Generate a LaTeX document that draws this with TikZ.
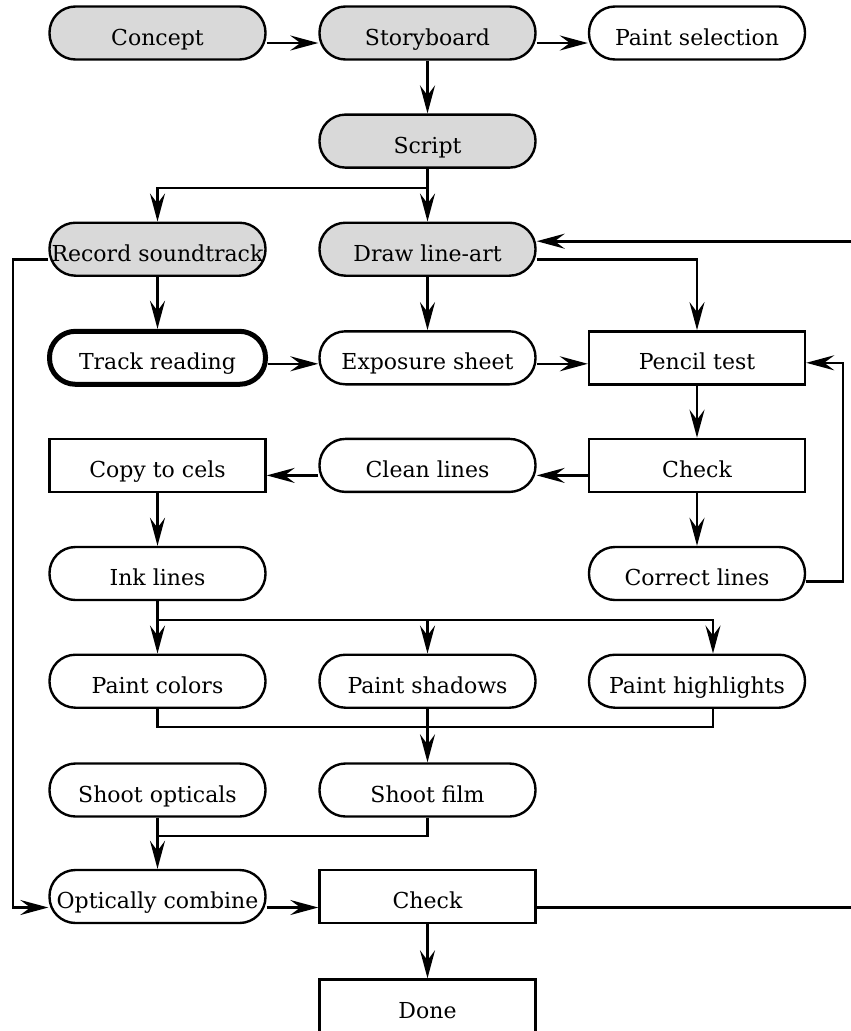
\documentclass[tikz,border=0pt]{standalone}
\usepackage{fontspec}
\setmainfont{DejaVu Serif}
\usetikzlibrary{arrows.meta,calc}
\begin{document}
\begin{tikzpicture}[x=1pt,y=-1pt,
  >={Stealth[length=28pt,width=15pt,inset=10pt]},
  base/.style={draw, line width=2.4pt, minimum width=216pt, minimum height=53pt, inner sep=0pt,
    text height=24pt, text depth=0pt, font=\fontsize{22}{26}\selectfont},
  term/.style={base, rounded corners=26pt},
  gterm/.style={term, fill=black!15},
  boxnode/.style={base, rectangle},
  conn/.style={line width=2.6pt, ->},
  wire/.style={line width=2.6pt}]
\useasboundingbox (0,0) rectangle (851,1031);
\def\ca{157.5}\def\cb{427.5}\def\cc{697}
% nodes
\node[gterm] (concept) at (\ca,33) {Concept};
\node[gterm] (story) at (\cb,33) {Storyboard};
\node[term] (paint) at (\cc,33) {Paint selection};
\node[gterm] (script) at (\cb,141.1) {Script};
\node[gterm] (record) at (\ca,249.2) {Record soundtrack};
\node[gterm] (draw) at (\cb,249.2) {Draw line-art};
\node[term, line width=5pt] (track) at (\ca,357.8) {Track reading};
\node[term] (expo) at (\cb,357.8) {Exposure sheet};
\node[boxnode] (pencil) at (\cc,357.8) {Pencil test};
\node[boxnode] (copy) at (\ca,465.4) {Copy to cels};
\node[term] (clean) at (\cb,465.4) {Clean lines};
\node[boxnode] (check1) at (\cc,465.4) {Check};
\node[term] (ink) at (\ca,573.5) {Ink lines};
\node[term] (correct) at (\cc,573.5) {Correct lines};
\node[term] (pcolors) at (\ca,681.2) {Paint colors};
\node[term] (pshadows) at (\cb,681.2) {Paint shadows};
\node[term] (phigh) at (\cc,681.2) {Paint highlights};
\node[term] (sopt) at (\ca,790) {Shoot opticals};
\node[term] (sfilm) at (\cb,790) {Shoot film};
\node[term] (optc) at (\ca,896.5) {Optically combine};
\node[boxnode] (check2) at (\cb,896.5) {Check};
\node[boxnode] (done) at (\cb,1006) {Done};
% coordinates for junctions and free ends
\coordinate (jscript) at (\cb,188);
\coordinate (jink) at (\ca,620);
\coordinate (jpaint) at (\cb,727);
\coordinate (jshoot) at (\ca,836);
\coordinate (recleft) at (13,259.2);
\coordinate (edgeA) at (851,241.2);
\coordinate (edgeB) at (851,907.5);
\coordinate (corrx) at (843,581.5);
% connectors
\draw[conn] ([yshift=-10pt]concept.east) -- ([yshift=-10pt]story.west);
\draw[conn] ([yshift=-10pt]story.east) -- ([yshift=-10pt]paint.west);
\draw[conn] (story) -- (script);
\draw[wire] (script.south) -- (jscript);
\draw[conn] (jscript) -| (record.north);
\draw[conn] (jscript) -- (draw.north);
\draw[conn] (record) -- (track);
\draw[conn] ([yshift=-10pt]record.west) -- (recleft) |- ([yshift=-11pt]optc.west);
\draw[conn] (draw) -- (expo);
\draw[conn] ([yshift=-10pt]draw.east) -| (pencil.north);
\draw[conn] (edgeA) -- ([yshift=8pt]draw.east);
\draw[conn] ([yshift=-6pt]track.east) -- ([yshift=-6pt]expo.west);
\draw[conn] ([yshift=-6pt]expo.east) -- ([yshift=-6pt]pencil.west);
\draw[conn] (pencil) -- (check1);
\draw[conn] ([yshift=-10pt]check1.west) -- ([yshift=-10pt]clean.east);
\draw[conn] ([yshift=-10pt]clean.west) -- ([yshift=-10pt]copy.east);
\draw[conn] (check1) -- (correct);
\draw[conn] ([yshift=-8pt]correct.east) -- (corrx) |- ([yshift=-5pt]pencil.east);
\draw[conn] (copy) -- (ink);
\draw[wire] (ink.south) -- (jink);
\draw[conn] (jink) -- (pcolors.north);
\draw[conn] (jink) -| (pshadows.north);
\draw[conn] (jink) -| ([xshift=16pt]phigh.north);
\draw[wire] (pcolors.south) |- (jpaint);
\draw[wire] ([xshift=16pt]phigh.south) |- (jpaint);
\draw[conn] (pshadows.south) -- (sfilm.north);
\draw[wire] (sfilm.south) |- (jshoot);
\draw[conn] (sopt.south) -- (optc.north);
\draw[conn] ([yshift=-11pt]optc.east) -- ([yshift=-11pt]check2.west);
\draw[wire] ([yshift=-11pt]check2.east) -- (edgeB);
\draw[conn] (check2) -- (done);
\end{tikzpicture}
\end{document}
